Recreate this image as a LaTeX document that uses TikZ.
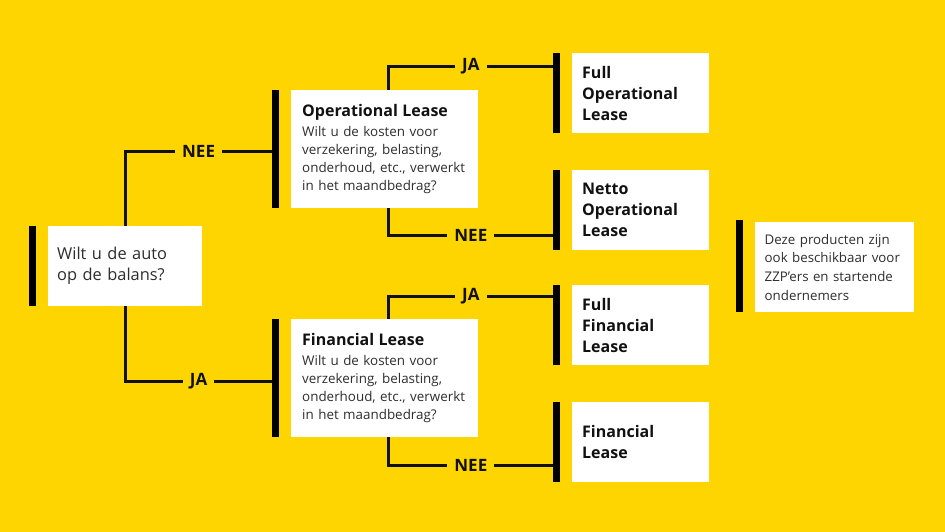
\documentclass[tikz,border=0pt]{standalone}
\usepackage{fontspec}
\setmainfont{Open Sans}
\usetikzlibrary{positioning,calc}
\definecolor{Geel}{HTML}{FFD500}
\definecolor{Inkt}{HTML}{111111}
\definecolor{Tekst}{HTML}{2E2E2E}

\tikzset{
  vak/.style={fill=white, anchor=north west, inner xsep=10pt, inner ysep=0pt, align=left, text=Tekst},
  balk/.style={fill=black, anchor=north west, minimum width=6.5pt, inner sep=0pt},
  lijn/.style={line width=2.8pt, draw=Inkt},
  keuze/.style={fill=Geel, text=Inkt, inner xsep=7pt, inner ysep=2pt, font=\bfseries\fontsize{17}{18}\selectfont},
  kop/.style={font=\fontsize{13.4}{18}\selectfont},
  prod/.style={vak, text width=117pt, minimum height=80pt, text=Inkt, font=\bfseries\fontsize{16}{21}\selectfont},
}

\begin{document}
\begin{tikzpicture}[x=1pt,y=-1pt]
  \fill[Geel] (0,0) rectangle (945,532);
  \useasboundingbox (0,0) rectangle (945,532);

  % vraag
  \node[balk, minimum height=80pt] (bstart) at (29,226) {};
  \node[vak, inner xsep=9pt, text width=136pt, minimum height=80pt, font=\fontsize{16.4}{21}\selectfont] (start) at (48,226)
    {Wilt u de auto\\op de balans?};

  % lease soorten
  \node[balk, minimum height=118pt] (bop) at (272,90) {};
  \node[vak, kop, inner xsep=11pt, text width=165pt, minimum height=118pt] (op) at (291,90)
    {{\bfseries\fontsize{16}{18}\selectfont\color{Inkt}Operational Lease}\\[2pt]
     Wilt u de kosten voor\\verzekering, belasting,\\onderhoud, etc., verwerkt\\in het maandbedrag?};
  \node[balk, minimum height=118pt] (bfin) at (272,319) {};
  \node[vak, kop, inner xsep=11pt, text width=165pt, minimum height=118pt] (fin) at (291,319)
    {{\bfseries\fontsize{16}{18}\selectfont\color{Inkt}Financial Lease}\\[2pt]
     Wilt u de kosten voor\\verzekering, belasting,\\onderhoud, etc., verwerkt\\in het maandbedrag?};

  % producten
  \node[balk, minimum height=80pt] (bfol) at (553,53) {};
  \node[prod] (fol) at (572,53) {Full\\Operational\\Lease};
  \node[balk, minimum height=80pt] (bnol) at (553,170) {};
  \node[prod] (nol) at (572,170) {Netto\\Operational\\Lease};
  \node[balk, minimum height=80pt] (bffl) at (553,285) {};
  \node[prod] (ffl) at (572,285) {Full\\Financial\\Lease};
  \node[balk, minimum height=80pt] (bfl) at (553,402) {};
  \node[prod] (fl) at (572,402) {Financial\\Lease};

  % opmerking
  \node[balk, minimum height=92pt] (bnote) at (736,220) {};
  \node[vak, inner xsep=9.5pt, text width=140pt, minimum height=90pt, font=\fontsize{13.3}{18.7}\selectfont] (note) at (755,222)
    {Deze producten zijn\\ook beschikbaar voor\\ZZP'ers en startende\\ondernemers};

  % verbindingen
  \draw[lijn] (start.north) |- node[keuze, pos=0.75] {NEE} ([yshift=-2pt]bop.west);
  \draw[lijn] (start.south) |- node[keuze, pos=0.75] {JA} ([yshift=-3pt]bfin.west);
  \draw[lijn] ([xshift=4pt]op.north) |- node[keuze, pos=0.75] {JA} ([yshift=27pt]bfol.west);
  \draw[lijn] ([xshift=4pt]op.south) |- node[keuze, pos=0.75] {NEE} ([yshift=-25.5pt]bnol.west);
  \draw[lijn] ([xshift=4pt]fin.north) |- node[keuze, pos=0.75] {JA} ([yshift=29pt]bffl.west);
  \draw[lijn] ([xshift=4pt]fin.south) |- node[keuze, pos=0.75] {NEE} ([yshift=-23pt]bfl.west);
\end{tikzpicture}
\end{document}
